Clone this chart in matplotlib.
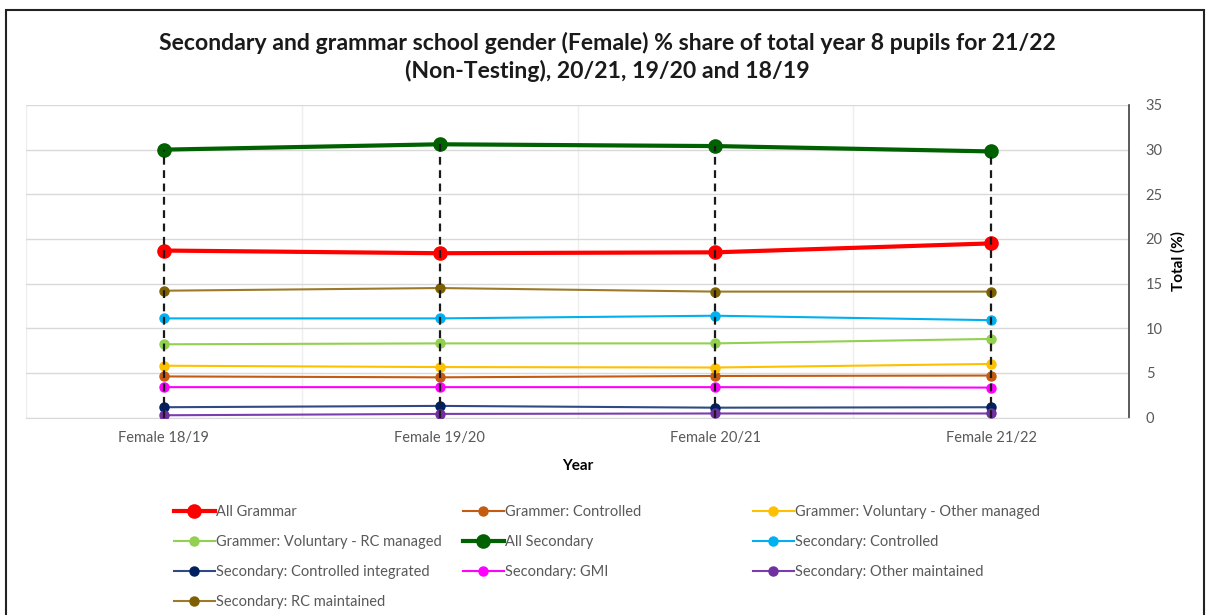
import numpy as np
import matplotlib
matplotlib.use('Agg')
import matplotlib.pyplot as plt
from matplotlib.patches import Rectangle

plt.rcParams['font.family'] = ['Lato', 'DejaVu Sans']

YEARS = ['Female 18/19', 'Female 19/20', 'Female 20/21', 'Female 21/22']

# % share of total year 8 pupils, per school type
all_grammar        = [18.7, 18.4, 18.5, 19.5]
gr_controlled      = [4.6, 4.5, 4.65, 4.7]
gr_vol_other       = [5.8, 5.65, 5.6, 6.0]
gr_vol_rc          = [8.2, 8.3, 8.3, 8.8]
all_secondary      = [30.0, 30.6, 30.4, 29.8]
sec_controlled     = [11.1, 11.1, 11.4, 10.9]
sec_ctrl_integr    = [1.15, 1.3, 1.1, 1.15]
sec_gmi            = [3.4, 3.4, 3.4, 3.35]
sec_other_maint    = [0.25, 0.4, 0.45, 0.45]
sec_rc_maint       = [14.2, 14.5, 14.1, 14.1]

# (label, values, line colour, marker colour, heavy)
SERIES = [
    ('All Grammar', all_grammar, '#FF0000', '#FF0000', True),
    ('Grammer: Controlled', gr_controlled, '#C55A11', '#C55A11', False),
    ('Grammer: Voluntary - Other managed', gr_vol_other, '#FFC000', '#FFC000', False),
    ('Grammer: Voluntary - RC managed', gr_vol_rc, '#92D050', '#92D050', False),
    ('All Secondary', all_secondary, '#006100', '#006100', True),
    ('Secondary: Controlled', sec_controlled, '#00B0F0', '#00B0F0', False),
    ('Secondary: Controlled integrated', sec_ctrl_integr, '#2F4A85', '#002060', False),
    ('Secondary: GMI', sec_gmi, '#FF00FF', '#FF00FF', False),
    ('Secondary: Other maintained', sec_other_maint, '#7A3DB0', '#7030A0', False),
    ('Secondary: RC maintained', sec_rc_maint, '#9C7A2A', '#7F6000', False),
]

GRID = '#D9D9D9'
TEXT = '#595959'

fig = plt.figure(figsize=(12.08, 6.15), dpi=100)
ax = fig.add_axes([26 / 1208, 1 - 417.5 / 615, 1103 / 1208, 312.5 / 615])

x = np.arange(len(YEARS))
handles = []
for label, vals, lc, mc, heavy in SERIES:
    lw, ms = (3.0, 9.5) if heavy else (1.5, 6.5)
    h, = ax.plot(x, vals, color=lc, lw=lw, marker='o', ms=ms,
                 markerfacecolor=mc, markeredgecolor=mc, label=label,
                 zorder=4 if heavy else 3)
    handles.append(h)

# drop lines from the highest point down to the axis
top = np.max([s[1] for s in SERIES], axis=0)
ax.vlines(x, 0, top, colors='#1a1a1a', linestyles=(0, (3.5, 2.5)), lw=1.6, zorder=5)

ax.set_xlim(-0.5, 3.5)
ax.set_ylim(0, 35)
ax.set_yticks(np.arange(0, 36, 5))
ax.set_xticks(x)
ax.set_xticklabels(YEARS, color=TEXT, fontsize=10.5)
ax.set_xticks(np.arange(-0.5, 3.6, 0.5), minor=True)
ax.yaxis.tick_right()
ax.yaxis.set_label_position('right')
ax.tick_params(axis='y', which='both', length=0, pad=12, labelsize=10.5, labelcolor=TEXT)
ax.tick_params(axis='x', which='both', length=0, pad=10)
ax.grid(axis='y', color=GRID, lw=1)
ax.grid(axis='x', which='minor', color='#EEEEEE', lw=1)
ax.set_axisbelow(True)
for side in ('top', 'left'):
    ax.spines[side].set_visible(False)
ax.spines['bottom'].set_color(GRID)
ax.spines['right'].set_color('#404040')
ax.spines['right'].set_linewidth(1.2)

ax.set_xlabel('Year', fontsize=11, fontweight='bold', labelpad=10)
ax.set_ylabel('Total (%)', fontsize=11, fontweight='bold', labelpad=6)

fig.text(0.5025, 1 - 57 / 615,
         'Secondary and grammar school gender (Female) % share of total year 8 pupils for 21/22\n'
         '(Non-Testing), 20/21, 19/20 and 18/19',
         ha='center', va='center', fontsize=16.6, fontweight='bold',
         linespacing=1.3, color='#1a1a1a')

# legend laid out row by row in three fixed columns
cols = [handles[0::3], handles[1::3], handles[2::3]]
col_x = [174, 463, 753]
for hs, cx in zip(cols, col_x):
    leg = fig.legend(handles=hs, loc='upper left',
                     bbox_to_anchor=(cx / 1208, 1 - 505 / 615),
                     frameon=False, fontsize=10.5, handlelength=2.8,
                     handletextpad=0.1, labelspacing=1.1,
                     borderaxespad=0, borderpad=0)
    for t in leg.get_texts():
        t.set_color(TEXT)

fig.patches.append(Rectangle((6 / 1208, -0.02), 1198 / 1208, 1.02 - 10 / 615,
                             transform=fig.transFigure, fill=False,
                             edgecolor='#222222', lw=1.5))

fig.savefig('out.png', dpi=100)
